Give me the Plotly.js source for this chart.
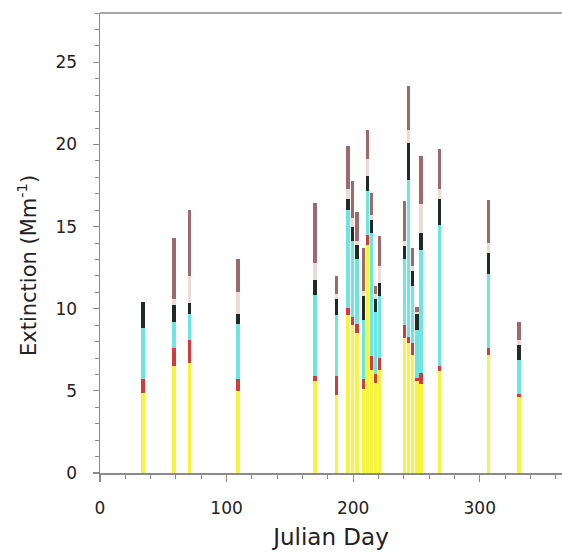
<!DOCTYPE html>
<html><head><meta charset="utf-8">
<script src="https://cdn.plot.ly/plotly-3.0.1.min.js"></script>
<style>html,body{margin:0;padding:0;background:#fff}</style>
</head><body>
<div id="chart" style="width:562px;height:557px"></div>
<script>
// Julian days of the samples
const days = [34, 58.5, 70.5, 109, 170, 187, 196, 199.5, 203, 208.4, 211.5, 214.7, 217.8, 221, 240.7, 243.8, 247, 250.5, 253.5, 268, 307, 331];
// stacked extinction components (Mm^-1), bottom to top
const yellowSeg = [4.9, 6.5, 6.7, 5.0, 5.6, 4.75, 9.6, 9.0, 8.5, 5.1, 13.9, 6.3, 5.5, 6.3, 8.2, 7.9, 7.2, 5.6, 5.4, 6.2, 7.2, 4.6];
const redSeg    = [0.8, 1.1, 1.4, 0.7, 0.3, 1.15, 0.45, 0.5, 0.6, 0.6, 0.6, 0.8, 0.5, 0.7, 0.8, 0.4, 0.7, 0.2, 0.7, 0.3, 0.4, 0.2];
const cyanSeg   = [3.1, 1.6, 1.6, 3.4, 4.95, 3.7, 5.95, 4.6, 3.9, 3.6, 2.65, 7.5, 3.8, 3.75, 4.0, 9.55, 3.5, 2.9, 7.5, 8.6, 4.5, 2.1];
const blackSeg  = [1.6, 1.0, 0.65, 0.6, 0.9, 1.0, 0.7, 0.9, 0.9, 1.45, 0.95, 0.8, 0.8, 0.8, 0.8, 2.25, 0.9, 1.0, 1.0, 1.6, 1.3, 0.9];
const tanSeg    = [0, 0.4, 1.65, 1.3, 1.05, 0.3, 0.6, 0.5, 0.2, 0.3, 1.0, 0.3, 0.3, 1.05, 0.3, 0.8, 0.3, 0.1, 1.8, 0.6, 0.6, 0.3];
const brownSeg  = [0, 3.7, 4.0, 2.0, 3.65, 1.1, 2.6, 2.3, 1.8, 2.65, 1.8, 1.35, 0.5, 1.8, 2.45, 2.65, 1.1, 0.3, 2.9, 2.4, 2.6, 1.1];

const segs = [yellowSeg, redSeg, cyanSeg, blackSeg, tanSeg, brownSeg];
const colors = ['#f6f43c', '#d23c3c', '#6de6e2', '#1f2b29', '#eadcd2', '#9c6a6a'];

const traces = segs.map((s, i) => ({
  type: 'bar', x: days, y: s, width: 2.7,
  marker: {color: colors[i], line: {width: 0}},
  showlegend: false, hoverinfo: 'skip'
}));

const axisCol = '#8a8a8a';
const fam = 'DejaVu Sans, Liberation Sans, Arial, sans-serif';

const layout = {
  width: 562, height: 557,
  margin: {l: 100, r: 0, t: 13, b: 84},
  barmode: 'stack', bargap: 0,
  paper_bgcolor: '#fff', plot_bgcolor: '#fff',
  font: {family: fam, color: '#222'},
  xaxis: {
    range: [0, 365], showgrid: false, zeroline: false,
    showline: true, linecolor: axisCol, linewidth: 1.5,
    tickmode: 'linear', tick0: 0, dtick: 100,
    ticks: 'outside', ticklen: 7, tickcolor: axisCol, tickwidth: 1.2,
    minor: {dtick: 20, ticks: 'outside', ticklen: 4, tickcolor: axisCol, tickwidth: 1},
    tickfont: {family: fam, size: 17, color: '#222'}, ticklabelstandoff: 12,
    title: {text: 'Julian Day', font: {family: fam, size: 23, color: '#222'}, standoff: 12}
  },
  yaxis: {
    range: [0, 28], showgrid: false, zeroline: false,
    showline: true, linecolor: axisCol, linewidth: 1.5,
    tickmode: 'linear', tick0: 0, dtick: 5,
    ticks: 'outside', ticklen: 6, tickcolor: axisCol, tickwidth: 1.2,
    minor: {dtick: 1, ticks: 'outside', ticklen: 4, tickcolor: axisCol, tickwidth: 1},
    tickfont: {family: fam, size: 17, color: '#222'}, ticklabelstandoff: 12
  },
  annotations: [{
    text: 'Extinction (Mm<sup>-1</sup>)', xref: 'paper', yref: 'paper',
    x: -0.158, y: 0.45, xanchor: 'center', yanchor: 'middle', textangle: -90,
    showarrow: false, font: {family: fam, size: 21, color: '#222'}
  }],
  shapes: [{type: 'line', xref: 'paper', yref: 'paper', x0: 0, x1: 1, y0: 1, y1: 1,
            line: {color: axisCol, width: 1.5}}]
};

Plotly.newPlot('chart', traces, layout, {staticPlot: true, displayModeBar: false});
</script>
</body></html>
